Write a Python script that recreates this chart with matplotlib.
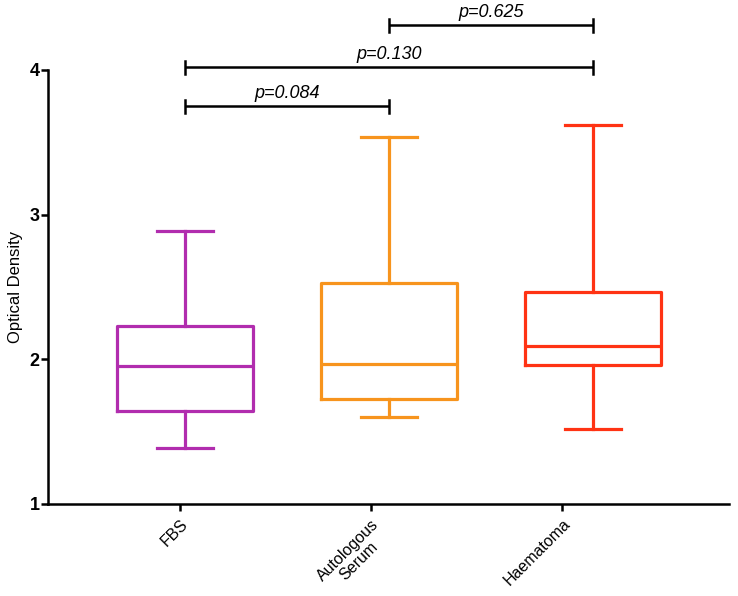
import numpy as np
from matplotlib import pyplot as plt

##################################################
# Data
groups = ["FBS", "Autologous\nSerum", "Haematoma"]
whisker_low = [1.39, 1.60, 1.52]
q1 = [1.64, 1.725, 1.96]
median = [1.955, 1.967, 2.09]
q3 = [2.227, 2.529, 2.467]
whisker_high = [2.89, 3.54, 3.62]
colors = ["#B12DAE", "#F7941D", "#FF3314"]

# Pairwise comparisons: (group a, group b, bar height, label)
comparisons = [
    (0, 1, 3.75, "p=0.084"),
    (0, 2, 4.02, "p=0.130"),
    (1, 2, 4.31, "p=0.625"),
]

# Box centres and tick label positions (ticks sit slightly left of boxes)
box_pos = [1, 2, 3]
tick_pos = [0.975, 1.91, 2.85]

##################################################
plt.rcParams['font.family'] = ['Liberation Sans', 'DejaVu Sans']

fig = plt.figure(figsize=(7.38, 5.96), dpi=100)
ax = fig.add_axes([48 / 738, 92 / 596, (729 - 48) / 738, (504 - 70) / 596])

stats = []
for i in range(len(groups)):
    stats.append({"med": median[i], "q1": q1[i], "q3": q3[i],
                  "whislo": whisker_low[i], "whishi": whisker_high[i],
                  "fliers": []})

lw = 2.3
for i, s in enumerate(stats):
    c = colors[i]
    ax.bxp([s], positions=[box_pos[i]], widths=0.667, showfliers=False,
           boxprops=dict(color=c, linewidth=lw),
           medianprops=dict(color=c, linewidth=lw),
           whiskerprops=dict(color=c, linewidth=lw),
           capprops=dict(color=c, linewidth=lw),
           capwidths=0.275, manage_ticks=False)

# significance bars
for a, b, h, label in comparisons:
    xa, xb = box_pos[a], box_pos[b]
    ax.plot([xa, xb], [h, h], color="black", linewidth=1.8,
            clip_on=False, solid_capstyle="butt")
    for xe in (xa, xb):
        ax.plot([xe, xe], [h - 0.045, h + 0.045], color="black",
                linewidth=1.8, clip_on=False)
    ax.text((xa + xb) / 2, h + 0.03, label, ha="center", va="bottom",
            fontsize=13, style="italic", clip_on=False)

ax.set_xlim(0.328, 3.667)
ax.set_ylim(1, 4)
ax.set_yticks([1, 2, 3, 4])
ax.set_yticklabels(["1", "2", "3", "4"], fontweight="bold", fontsize=13)
ax.set_xticks(tick_pos)
ax.set_xticklabels(groups, rotation=45, ha="right", rotation_mode="anchor",
                   fontsize=11.5, linespacing=1.0, multialignment="center")
ax.set_ylabel("Optical Density", fontsize=12, labelpad=5)

for side in ("top", "right"):
    ax.spines[side].set_visible(False)
for side in ("left", "bottom"):
    ax.spines[side].set_linewidth(1.8)
ax.tick_params(axis="both", width=1.8, length=5, direction="out")
ax.tick_params(axis="y", pad=1)
ax.tick_params(axis="x", pad=4)

plt.savefig("out.png", dpi=100)
